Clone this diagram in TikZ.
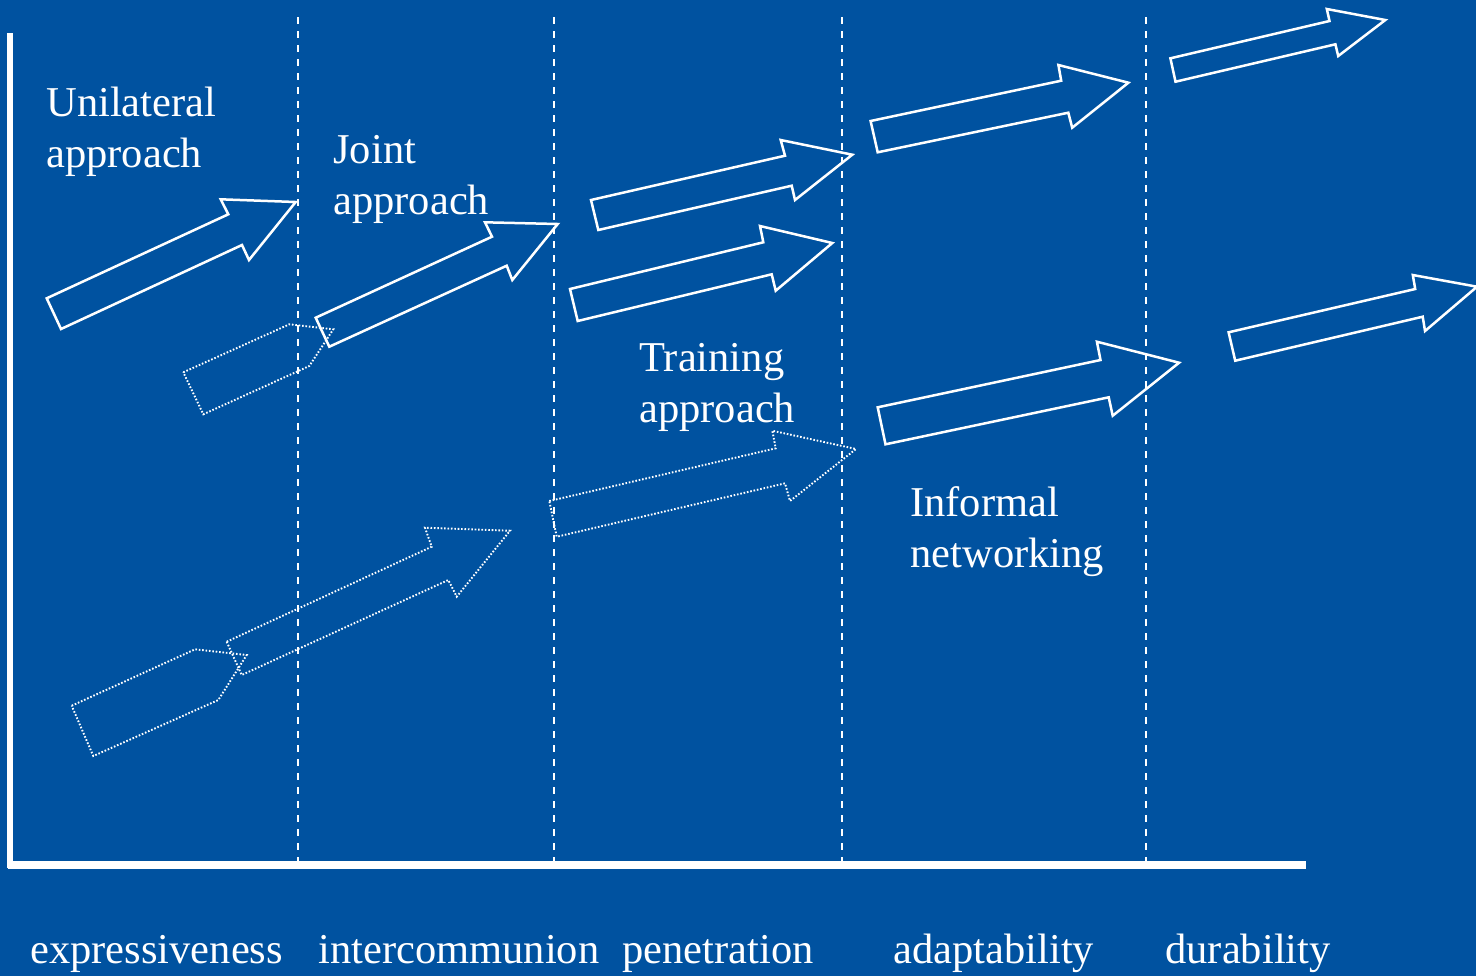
\documentclass[tikz,border=0pt]{standalone}
\usepackage{fontspec}
\setmainfont{Liberation Serif}
\definecolor{bgblue}{RGB}{0,82,160}
\begin{document}
\begin{tikzpicture}[x=0.5pt,y=-0.5pt,
  solidarrow/.style={draw=white, line width=1.25pt, line join=miter},
  dotarrow/.style={draw=white, line width=0.95pt, dash pattern=on 0.8pt off 0.9pt},
  divider/.style={draw=white, line width=1.05pt, dash pattern=on 3.5pt off 3.5pt},
  axisline/.style={draw=white},
  lbl/.style={text=white, inner sep=0pt, anchor=base west, align=left,
    font=\fontsize{21.25}{25.5}\selectfont}]
\useasboundingbox (0,0) rectangle (1476,976);
\fill[bgblue] (0,0) rectangle (1476,976);
\clip (0,0) rectangle (1476,976);

% axes
\coordinate (ytop) at (10,33);
\coordinate (origin) at (10,865);
\coordinate (xend) at (1306,865);
\draw[axisline, line width=2.6pt] (ytop) -- (10,868);
\draw[axisline, line width=3.8pt] (7.5,865) -- (xend);

% dividers
\foreach \xx/\nm in {298/d1,554/d2,842/d3,1146/d4}{
  \coordinate (\nm top) at (\xx,17);
  \coordinate (\nm bot) at (\xx,861);
  \draw[divider] (\nm top) -- (\nm bot);
}

% solid arrows
\draw[solidarrow] (46.7,298.3) -- (228.3,214.3) -- (220.7,199.3) -- (295.7,202) -- (249,260) -- (242,245) -- (61,329) -- cycle;
\draw[solidarrow] (315.7,317.7) -- (492,236.7) -- (485,222.3) -- (557.7,224) -- (512.3,280) -- (506.7,265.7) -- (329.3,346.7) -- cycle;
\draw[solidarrow] (591,200) -- (785,155.7) -- (780.7,140) -- (852.3,154.7) -- (795,200) -- (791.7,185.7) -- (598.3,230) -- cycle;
\draw[solidarrow] (570,289) -- (763.3,242.3) -- (760,226) -- (832.3,243) -- (775.7,290.7) -- (771.7,274.3) -- (577.7,321) -- cycle;
\draw[solidarrow] (870.6,121) -- (1061.2,80.7) -- (1058.4,65) -- (1128.4,82.7) -- (1072.2,127.7) -- (1068.3,112.7) -- (877.7,152.3) -- cycle;
\draw[solidarrow] (1170.4,58.3) -- (1329.5,21) -- (1326.8,9) -- (1385.3,20) -- (1338.2,56) -- (1335.4,44.3) -- (1175.5,81.7) -- cycle;
\draw[solidarrow] (877.7,407.3) -- (1100.5,360) -- (1096.9,341.7) -- (1179.1,362.7) -- (1112.7,415.7) -- (1108.7,397.3) -- (885.5,444.3) -- cycle;
\draw[solidarrow] (1228.6,332.3) -- (1415.2,289) -- (1412.8,275) -- (1477,286.7) -- (1425,331) -- (1422.7,316.7) -- (1235.2,360.7) -- cycle;

% dotted arrows
\draw[dotarrow] (183.3,372.3) -- (289.3,324.3) -- (333.3,329.3) -- (309.3,366) -- (203.3,414.3) -- cycle;
\draw[dotarrow] (71.7,705.7) -- (195,649.3) -- (246.7,655) -- (218.3,700) -- (93.3,756) -- cycle;
\draw[dotarrow] (226.7,641.7) -- (431.7,546.7) -- (425,527.7) -- (510,530.7) -- (456.7,596.7) -- (448.3,580) -- (241.7,675) -- cycle;
\draw[dotarrow] (549.3,501) -- (775.7,448.3) -- (772.3,430.7) -- (856,449) -- (790,501) -- (785,483.3) -- (556.7,536.7) -- cycle;

% labels (base anchor = baseline of the last line)
\node[lbl] (uni) at (46,167) {Unilateral\\approach};
\node[lbl] (joint) at (333,214) {Joint\\approach};
\node[lbl] (train) at (639,422) {Training\\approach};
\node[lbl] (inf) at (910,567) {Informal\\networking};

\node[lbl] (c1) at (30,963) {expressiveness};
\node[lbl] (c2) at (318,963) {intercommunion};
\node[lbl] (c3) at (622,963) {penetration};
\node[lbl] (c4) at (893,963) {adaptability};
\node[lbl] (c5) at (1165,963) {durability};
\end{tikzpicture}
\end{document}
